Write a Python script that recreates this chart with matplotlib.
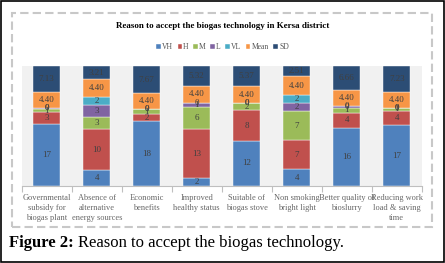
import matplotlib
matplotlib.use('Agg')
import matplotlib.pyplot as plt
from matplotlib.patches import Rectangle
import numpy as np

categories = ['Governmental\nsubsidy for\nbiogas plant',
              'Absence of\nalternative\nenergy sources',
              'Economic\nbenefits',
              'Improved\nhealthy status',
              'Suitable of\nbiogas stove',
              'Non smoking\nbright light',
              'Better quality of\nbioslurry',
              'Reducing work\nload & saving\ntime']
series_names = ['VH', 'H', 'M', 'L', 'VL', 'Mean', 'SD']

vh = [17, 4, 18, 2, 12, 4, 16, 17]
h = [3.4, 10, 2, 13, 8, 7, 4, 4]
m = [0.8, 3, 1.4, 6, 2, 7, 1.4, 0.9]
l = [0.4, 3, 0, 1, 0, 2, 0.4, 0]
vl = [0, 2, 0, 0, 0, 2, 0, 0]
mean = [4.40, 4.40, 4.40, 4.40, 4.40, 4.40, 4.40, 4.40]
sd = [7.13, 3.21, 7.67, 5.32, 5.37, 2.51, 6.66, 7.23]

colors = ['#4f81bd', '#c0504d', '#9bbb59', '#8064a2', '#4bacc6', '#f79646', '#2c4d75']
serif = 'Liberation Serif'

data = np.array([vh, h, m, l, vl, mean, sd], dtype=float)
totals = data.sum(axis=0)
frac = data / totals

fig = plt.figure(figsize=(4.45, 2.63), dpi=100)

# outer frame and dashed chart border
fig.patches.append(Rectangle((0.002, 0.002), 0.996, 0.996, transform=fig.transFigure,
                             fill=False, edgecolor='black', lw=1.2))
fig.patches.append(Rectangle((12 / 445, 1 - 227 / 263), 420 / 445, 214 / 263,
                             transform=fig.transFigure, fill=False, edgecolor='#c8c8c8',
                             lw=1.5, linestyle=(0, (4, 2))))

ax = fig.add_axes([21.7 / 445, 1 - 186 / 263, 400 / 445, 120 / 263])
ax.set_facecolor('#f1f1f1')

x = np.arange(len(categories))
bottom = np.zeros(len(categories))
for i, name in enumerate(series_names):
    bars = ax.bar(x, frac[i], 0.54, bottom=bottom, color=colors[i], label=name,
                  edgecolor='white', linewidth=0.3)
    fmt = '{:.2f}' if name in ('Mean', 'SD') else '{:.0f}'
    ax.bar_label(bars, labels=[fmt.format(v) for v in data[i]], label_type='center',
                 fontsize=6.5, color='#404040', family=serif)
    bottom += frac[i]

ax.set_xlim(-0.5, len(categories) - 0.5)
ax.set_ylim(0, 1)
ax.set_yticks([])
for s in ['top', 'right', 'left']:
    ax.spines[s].set_visible(False)
ax.spines['bottom'].set_color('#bfbfbf')
ax.set_xticks(np.arange(len(categories) + 1) - 0.5, minor=False)
ax.set_xticklabels([])
ax.tick_params(axis='x', length=4, color='#bfbfbf')
ax.set_xticks(x, minor=True)
ax.set_xticklabels(categories, minor=True, fontsize=6, color='#666666',
                   family=serif, linespacing=1.3)
ax.tick_params(axis='x', which='minor', length=0, pad=6)

fig.text(0.5, 1 - 26 / 263, 'Reason to accept the biogas technology in Kersa district',
         ha='center', va='center', fontsize=6.5, fontweight='bold', family=serif)
fig.legend(loc='center', bbox_to_anchor=(0.5, 1 - 47 / 263), ncol=7, frameon=False,
           prop={'family': serif, 'size': 5.5}, handlelength=0.6, handleheight=0.6,
           handletextpad=0.15, columnspacing=0.6, labelcolor='#555555')

t1 = fig.text(9 / 445, 1 - 243 / 263, 'Figure 2:', ha='left', va='center',
              fontsize=12, fontweight='bold', family=serif)
fig.canvas.draw()
bb = t1.get_window_extent()
fig.text(bb.x1 / fig.bbox.width + 0.009, 1 - 243 / 263,
         'Reason to accept the biogas technology.', ha='left', va='center',
         fontsize=12, family=serif)

fig.savefig('out.png', dpi=100)
